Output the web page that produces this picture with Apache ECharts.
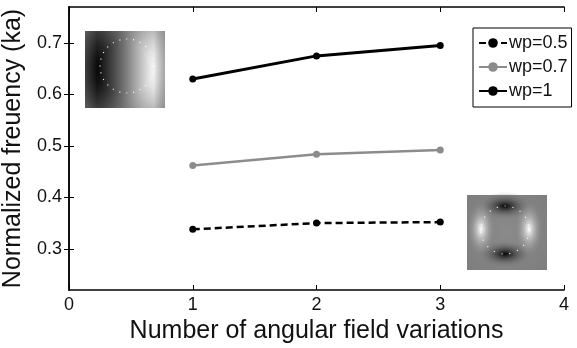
<!DOCTYPE html>
<html>
<head>
<meta charset="utf-8">
<script src="https://cdn.jsdelivr.net/npm/echarts@6/dist/echarts.min.js"></script>
<style>
  html, body { margin: 0; padding: 0; background: #fff; }
  #chart { width: 577px; height: 348px; }
</style>
</head>
<body>
<div id="chart"></div>
<script>
// data
const modes = [1, 2, 3]
const wp05 = [0.338, 0.350, 0.352]
const wp07 = [0.462, 0.484, 0.492]
const wp1 = [0.630, 0.675, 0.695]
const yTicks = [0.3, 0.4, 0.5, 0.6, 0.7]
const seriesNames = ['wp=0.5', 'wp=0.7', 'wp=1']

const FONT = '"Liberation Sans", Arial, sans-serif'
const chart = echarts.init(document.getElementById('chart'))

const pairs = vals => modes.map((m, i) => [m, vals[i]])

const lineSeries = (name, vals, color, width, dash) => ({
  name,
  type: 'line',
  data: pairs(vals),
  symbol: 'circle',
  symbolSize: 7,
  itemStyle: { color },
  lineStyle: { color, width, type: dash ? [7, 4] : 'solid' },
  emphasis: { disabled: true },
  z: 3
})

// inset field pictures (decoration only)
const inset1 = {
  type: 'group',
  children: [
    {
      type: 'rect',
      shape: { x: 85, y: 31, width: 80, height: 77 },
      style: {
        fill: new echarts.graphic.LinearGradient(0, 0, 1, 0, [
          { offset: 0, color: '#222' },
          { offset: 0.15, color: '#050505' },
          { offset: 0.5, color: '#777' },
          { offset: 0.86, color: '#fafafa' },
          { offset: 1, color: '#b8b8b8' }
        ])
      }
    },
    {
      type: 'rect',
      shape: { x: 85, y: 31, width: 80, height: 77 },
      style: {
        fill: new echarts.graphic.RadialGradient(0.5, 0.5, 0.75, [
          { offset: 0.45, color: 'rgba(120,120,120,0)' },
          { offset: 1, color: 'rgba(120,120,120,0.7)' }
        ])
      }
    },
    {
      type: 'circle',
      shape: { cx: 127, cy: 66, r: 27 },
      style: { fill: null, stroke: '#fff', lineWidth: 1.2, lineDash: [1, 6] }
    }
  ]
}

const blob = (cx, cy, sx, sy, color) => ({
  type: 'circle',
  x: cx, y: cy, scaleX: sx, scaleY: sy,
  shape: { cx: 0, cy: 0, r: 10 },
  style: {
    fill: new echarts.graphic.RadialGradient(0.5, 0.5, 0.5, [
      { offset: 0, color },
      { offset: 1, color: 'rgba(136,136,136,0)' }
    ])
  }
})

const inset2 = {
  type: 'group',
  children: [
    {
      type: 'rect',
      shape: { x: 467, y: 195, width: 80, height: 75 },
      style: {
        fill: new echarts.graphic.RadialGradient(0.5, 0.5, 0.7, [
          { offset: 0, color: '#8a8a8a' },
          { offset: 1, color: '#7e7e7e' }
        ])
      }
    },
    blob(505, 206, 2.8, 1.4, '#050505'),
    blob(505, 254, 2.8, 1.4, '#050505'),
    blob(481, 229, 1.4, 2.8, '#ffffff'),
    blob(529, 229, 1.4, 2.8, '#ffffff'),
    {
      type: 'circle',
      shape: { cx: 505, cy: 230, r: 24 },
      style: { fill: null, stroke: '#fff', lineWidth: 1.2, lineDash: [1, 7] }
    }
  ]
}

const option = {
  animation: false,
  backgroundColor: '#fff',
  textStyle: { fontFamily: FONT },
  grid: { left: 69, right: 13, top: 7, bottom: 58, outerBoundsMode: 'none' },
  legend: {
    data: seriesNames,
    orient: 'vertical',
    left: 473,
    top: 28,
    padding: [6, 4, 7, 5],
    itemGap: 6,
    itemWidth: 28,
    itemHeight: 12,
    borderColor: '#000',
    borderWidth: 1,
    borderRadius: 0,
    backgroundColor: '#fff',
    textStyle: { fontFamily: FONT, fontSize: 18, color: '#111', padding: [0, 0, 0, -3] }
  },
  xAxis: [
    {
      type: 'value',
      min: 0,
      max: 4,
      interval: 1,
      name: 'Number of angular field variations',
      nameLocation: 'middle',
      nameGap: 25,
      nameTextStyle: { fontFamily: FONT, fontSize: 25, color: '#111' },
      axisLine: { lineStyle: { color: '#000', width: 1.5 } },
      axisTick: { inside: true, length: 5, lineStyle: { color: '#000' } },
      axisLabel: { fontFamily: FONT, fontSize: 18, color: '#111', margin: 6 },
      splitLine: { show: false }
    },
    {
      type: 'value',
      position: 'top',
      min: 0,
      max: 4,
      interval: 1,
      axisLine: { show: true, lineStyle: { color: '#000', width: 1.5 } },
      axisTick: { inside: true, length: 5, lineStyle: { color: '#000' } },
      axisLabel: { show: false },
      splitLine: { show: false }
    }
  ],
  yAxis: [
    {
      type: 'value',
      min: 0.22,
      max: 0.77,
      name: 'Normalized freuency (ka)',
      nameLocation: 'middle',
      nameGap: 38,
      nameTextStyle: { fontFamily: FONT, fontSize: 25, color: '#111' },
      axisLine: { show: true, lineStyle: { color: '#000', width: 1.5 } },
      axisTick: { inside: true, length: 5, customValues: yTicks, lineStyle: { color: '#000' } },
      axisLabel: {
        fontFamily: FONT, fontSize: 18, color: '#111', margin: 7,
        customValues: yTicks,
        formatter: v => v.toFixed(1)
      },
      splitLine: { show: false }
    },
    {
      type: 'value',
      position: 'right',
      min: 0.22,
      max: 0.77,
      axisLine: { show: true, lineStyle: { color: '#000', width: 1.5 } },
      axisTick: { inside: true, length: 5, customValues: yTicks, lineStyle: { color: '#000' } },
      axisLabel: { show: false },
      splitLine: { show: false }
    }
  ],
  series: [
    lineSeries(seriesNames[0], wp05, '#000', 2.5, true),
    lineSeries(seriesNames[1], wp07, '#8c8c8c', 2.5, false),
    lineSeries(seriesNames[2], wp1, '#000', 3, false)
  ],
  graphic: [inset1, inset2]
}

chart.setOption(option)
</script>
</body>
</html>
